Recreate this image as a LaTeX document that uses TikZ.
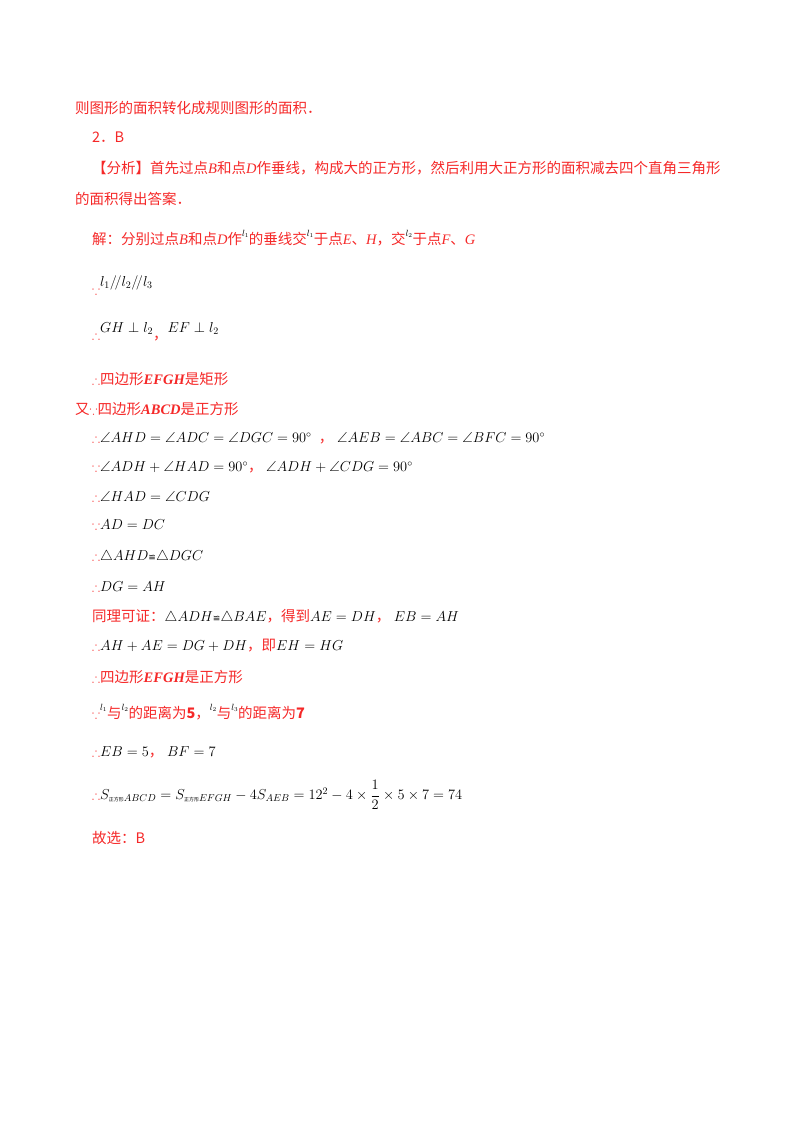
\documentclass[tikz,border=0pt]{standalone}
\usepackage{amsmath,amssymb}
\usepackage{fontspec}
\setmainfont{Liberation Serif}
\newfontfamily\cjk{Noto Sans CJK SC}
\newfontfamily\djv{DejaVu Sans}
\definecolor{rd}{RGB}{245,40,40}
\newcommand{\zh}[1]{{\cjk\color{rd}#1}}
\newcommand{\mi}[1]{{\rmfamily\itshape #1}}
\newcommand{\mb}[1]{{\rmfamily\bfseries\itshape #1}}
\newcommand{\rt}{{\color{rd}\large$\therefore$}}
\newcommand{\bc}{{\color{rd}\large$\because$}}
\newcommand{\up}[1]{\raisebox{1.1ex}{\small$#1$}}
\newcommand{\cg}{{\djv\small ≌}}
\begin{document}
\begin{tikzpicture}[x=1pt,y=-1pt,every node/.style={anchor=west,inner sep=0pt,font=\fontsize{14.5}{17}\selectfont}]
\useasboundingbox (0,0) rectangle (800,1132);
\node (a1) at (75,108) {\zh{则图形的面积转化成规则图形的面积．}};
\node (a2) at (92,137) {\zh{2．B}};
\node (a3) at (92,168) {\zh{【分析】首先过点\mi{B}和点\mi{D}作垂线，构成大的正方形，然后利用大正方形的面积减去四个直角三角形}};
\node (a4) at (75,199) {\zh{的面积得出答案．}};
\node (a5) at (92,238) {\zh{解：分别过点\mi{B}和点\mi{D}作}\up{l_1}\zh{的垂线交}\up{l_1}\zh{于点\mi{E}、\mi{H}，交}\up{l_2}\zh{于点\mi{F}、\mi{G}}};
\node (a6) at (92,285) {\bc\raisebox{1.1ex}{$l_1 /\!/ l_2 /\!/ l_3$}};
\node (a7) at (92,332) {\rt\raisebox{1.1ex}{$GH\perp l_2$}\zh{，}\raisebox{1.1ex}{$EF\perp l_2$}};
\node (a8) at (92,379) {\rt\zh{四边形\mb{EFGH}是矩形}};
\node (a9) at (75,409) {\zh{又}\bc\zh{四边形\mb{ABCD}是正方形}};
\node (a10) at (92,438) {\rt$\angle AHD=\angle ADC=\angle DGC=90^\circ$\ \ \zh{，}\ $\angle AEB=\angle ABC=\angle BFC=90^\circ$};
\node (a11) at (92,467) {\bc$\angle ADH+\angle HAD=90^\circ$\zh{，}\ $\angle ADH+\angle CDG=90^\circ$};
\node (a12) at (92,496) {\rt$\angle HAD=\angle CDG$};
\node (a13) at (92,525) {\bc$AD=DC$};
\node (a14) at (92,557) {\rt$\triangle AHD$\cg$\triangle DGC$};
\node (a15) at (92,587) {\rt$DG=AH$};
\node (a16) at (92,617) {\zh{同理可证：}$\triangle ADH$\cg$\triangle BAE$\zh{，得到}$AE=DH$\zh{，}\ $EB=AH$};
\node (a17) at (92,646) {\rt$AH+AE=DG+DH$\zh{，即}$EH=HG$};
\node (a18) at (92,677) {\rt\zh{四边形\mb{EFGH}是正方形}};
\node (a19) at (92,712) {\bc\up{l_1}\zh{与}\up{l_2}\zh{的距离为\textbf{5}，}\up{l_2}\zh{与}\up{l_3}\zh{的距离为\textbf{7}}};
\node (a20) at (92,752) {\rt$EB=5$\zh{，}\ $BF=7$};
\node (a21) at (92,795) {\rt$S_{\text{\cjk\tiny 正方形}ABCD}=S_{\text{\cjk\tiny 正方形}EFGH}-4S_{AEB}=12^2-4\times\dfrac12\times5\times7=74$};
\node (a22) at (92,838) {\zh{故选：B}};
\end{tikzpicture}
\end{document}
